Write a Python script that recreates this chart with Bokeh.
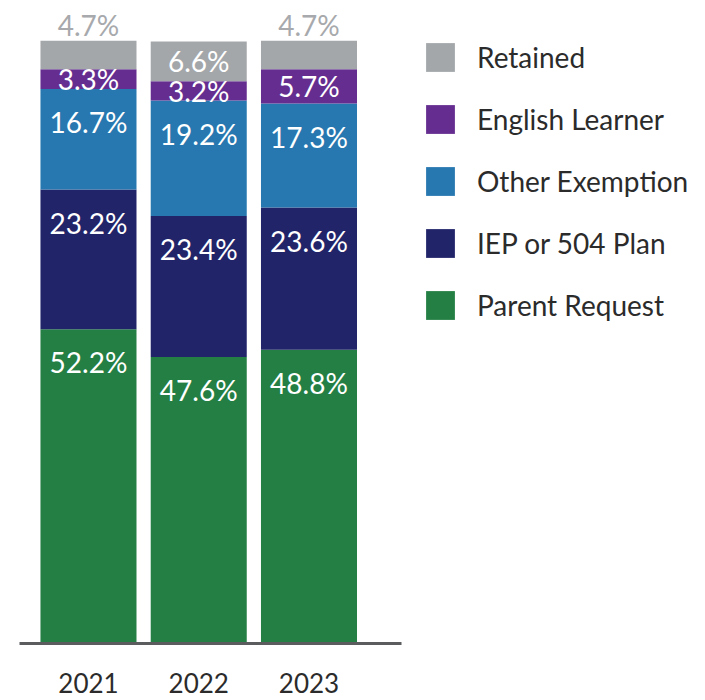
from bokeh.plotting import figure
from bokeh.models import (ColumnDataSource, Legend, LegendItem, FixedTicker,
                          LinearAxis, Range1d)
from bokeh.core.properties import value
from bokeh.embed import file_html
from bokeh.resources import INLINE

years = ["2021", "2022", "2023"]
categories = ["Parent Request", "IEP or 504 Plan", "Other Exemption",
              "English Learner", "Retained"]
parent_request = [52.2, 47.6, 48.8]
iep_504 = [23.2, 23.4, 23.6]
other_exemption = [16.7, 19.2, 17.3]
english_learner = [3.3, 3.2, 5.7]
retained = [4.7, 6.6, 4.7]

colors = ["#247f45", "#22246a", "#2778b0", "#652d90", "#a4a7aa"]
FONT = "Lato"

series = [parent_request, iep_504, other_exemption, english_learner, retained]
xs = list(range(len(years)))

data = {"x": xs}
for name, vals in zip(categories, series):
    data[name] = vals
src = ColumnDataSource(data)

p = figure(width=700, height=700, output_backend="svg", toolbar_location=None,
           x_range=Range1d(-0.798, 5.551), y_range=Range1d(0, 106.8),
           min_border=0, min_border_left=0, min_border_right=0, min_border_top=0,
           min_border_bottom=57)
p.xaxis.visible = False
p.yaxis.visible = False
p.grid.visible = False
p.outline_line_color = None

renderers = p.vbar_stack(categories, x="x", width=0.871, source=src,
                         color=colors, line_color=None)

# labels
lx, ly, lt, lc = [], [], [], []
for i in xs:
    cum = 0.0
    for k, vals in enumerate(series):
        v = vals[i]
        top = cum + v
        cum = top
        if k == len(series) - 1 and v < 5:
            lx.append(i); ly.append(100.0 + 2.7); lt.append(f"{v}%"); lc.append("#a7a9ac")
        else:
            off = min(5.5, v / 2)
            lx.append(i); ly.append(min(top, 100.0) - off); lt.append(f"{v}%"); lc.append("#ffffff")
lsrc = ColumnDataSource(dict(x=lx, y=ly, t=lt, c=lc))
p.text(x="x", y="y", text="t", source=lsrc, text_color="c",
       text_align="center", text_baseline="middle",
       text_font=value(FONT), text_font_size="28px")

# x axis
ax = LinearAxis(ticker=FixedTicker(ticks=xs),
                major_label_overrides={i: y for i, y in zip(xs, years)})
ax.bounds = (-0.626, 2.839)
ax.axis_line_color = "#5b5c5e"
ax.axis_line_width = 3
ax.major_tick_line_color = None
ax.minor_tick_line_color = None
ax.major_tick_out = 0
ax.major_label_standoff = 29
ax.major_label_text_font = FONT
ax.major_label_text_font_size = "26px"
ax.major_label_text_color = "#2b2b2b"
p.add_layout(ax, "below")

items = [LegendItem(label=c, renderers=[r]) for c, r in zip(categories, renderers)][::-1]
leg = Legend(items=items, location=(422, 320), orientation="vertical",
             glyph_width=36, glyph_height=36, label_height=36, spacing=26,
             label_standoff=19, padding=0, margin=0,
             border_line_color=None, background_fill_alpha=0,
             label_text_font=FONT, label_text_font_size="28px",
             label_text_color="#2b2b2b")
p.add_layout(leg, "center")

open("out.html", "w").write(file_html(p, INLINE))
